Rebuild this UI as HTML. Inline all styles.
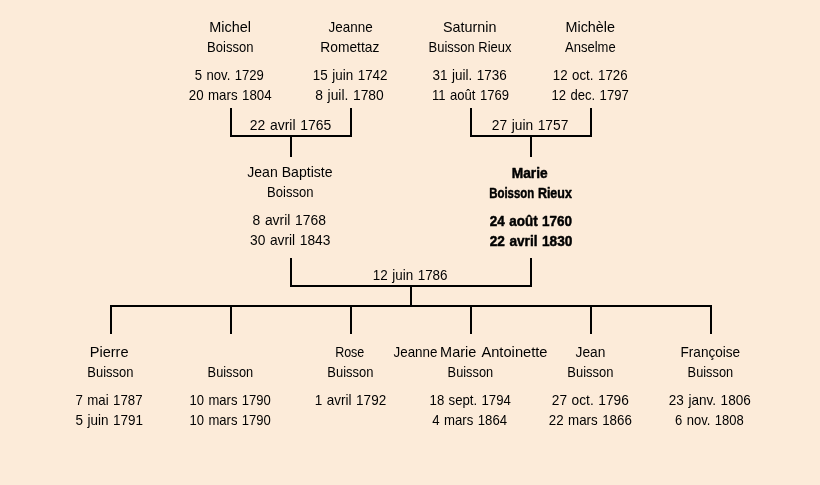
<!DOCTYPE html>
<html lang="fr">
<head>
<meta charset="utf-8">
<title>Arbre généalogique</title>
<style>
html,body{margin:0;padding:0;background:#FCEBD9;}
body{width:820px;height:485px;overflow:hidden;font-family:"Liberation Sans",sans-serif;}
svg{display:block;}
text{font-family:"Liberation Sans",sans-serif;font-size:14px;fill:#000;}
.b{font-weight:bold;font-size:15px;stroke:#000;stroke-width:0.5px;stroke-linejoin:round;}
rect.l{fill:#000;shape-rendering:crispEdges;}
g.tx{opacity:0.999;}
.d{word-spacing:0.8px;}
</style>
</head>
<body>
<svg width="820" height="485" viewBox="0 0 820 485">
<rect x="0" y="0" width="820" height="485" fill="#FCEBD9"/>
<rect class="l" x="230" y="108" width="2" height="29"/>
<rect class="l" x="350" y="108" width="2" height="29"/>
<rect class="l" x="230" y="135" width="122" height="2"/>
<rect class="l" x="290" y="137" width="2" height="20"/>
<rect class="l" x="470" y="108" width="2" height="29"/>
<rect class="l" x="590" y="108" width="2" height="29"/>
<rect class="l" x="470" y="135" width="122" height="2"/>
<rect class="l" x="530" y="137" width="2" height="20"/>
<rect class="l" x="290" y="258" width="2" height="29"/>
<rect class="l" x="530" y="258" width="2" height="29"/>
<rect class="l" x="290" y="285" width="242" height="2"/>
<rect class="l" x="410" y="287" width="2" height="18"/>
<rect class="l" x="110" y="305" width="602" height="2"/>
<rect class="l" x="110" y="305" width="2" height="29"/>
<rect class="l" x="230" y="305" width="2" height="29"/>
<rect class="l" x="350" y="305" width="2" height="29"/>
<rect class="l" x="470" y="305" width="2" height="29"/>
<rect class="l" x="590" y="305" width="2" height="29"/>
<rect class="l" x="710" y="305" width="2" height="29"/>
<g class="tx">
<text transform="translate(209.21,32) scale(1.0327,1)">Michel</text>
<text transform="translate(328.51,32) scale(0.9611,1)">Jeanne</text>
<text transform="translate(442.98,32) scale(1.0248,1)">Saturnin</text>
<text transform="translate(565.47,32) scale(1.0270,1)">Michèle</text>
<text transform="translate(207.09,52) scale(0.9319,1)">Boisson</text>
<text transform="translate(320.27,52) scale(0.9871,1)">Romettaz</text>
<text transform="translate(428.59,52) scale(0.9261,1)">Buisson Rieux</text>
<text transform="translate(565.00,52) scale(0.9302,1)">Anselme</text>
<text class="d" transform="translate(194.80,80) scale(0.9377,1)">5 nov. 1729</text>
<text class="d" transform="translate(312.79,80) scale(0.9607,1)">15 juin 1742</text>
<text class="d" transform="translate(432.52,80) scale(0.9638,1)">31 juil. 1736</text>
<text class="d" transform="translate(552.80,80) scale(0.9513,1)">12 oct. 1726</text>
<text class="d" transform="translate(188.79,100) scale(0.9506,1)">20 mars 1804</text>
<text class="d" transform="translate(315.26,100) scale(0.9890,1)">8 juil. 1780</text>
<text class="d" transform="translate(432.07,100) scale(0.9348,1)">11 août 1769</text>
<text class="d" transform="translate(551.57,100) scale(0.9350,1)">12 dec. 1797</text>
<text class="d" transform="translate(249.75,130) scale(0.9969,1)">22 avril 1765</text>
<text class="d" transform="translate(491.76,130) scale(0.9837,1)">27 juin 1757</text>
<text transform="translate(247.25,177) scale(1.0060,1)">Jean Baptiste</text>
<text class="b" transform="translate(511.81,177.6) scale(0.9150,1)">Marie</text>
<text transform="translate(267.09,197) scale(0.9319,1)">Boisson</text>
<text class="b" transform="translate(489.18,197.6) scale(0.7610,1)">Boisson</text>
<text class="b" transform="translate(537.88,197.6) scale(0.8323,1)">Rieux</text>
<text class="d" transform="translate(252.50,225) scale(0.9931,1)">8 avril 1768</text>
<text class="b d" transform="translate(489.78,225.6) scale(0.8984,1)">24 août 1760</text>
<text class="d" transform="translate(250.01,245) scale(0.9845,1)">30 avril 1843</text>
<text class="b d" transform="translate(489.77,245.6) scale(0.9086,1)">22 avril 1830</text>
<text class="d" transform="translate(372.79,280) scale(0.9607,1)">12 juin 1786</text>
<text transform="translate(89.70,357) scale(1.0423,1)">Pierre</text>
<text transform="translate(335.13,357) scale(0.8943,1)">Rose</text>
<text transform="translate(393.51,357) scale(0.9567,1)">Jeanne</text>
<text transform="translate(440.11,357) scale(1.0346,1)">Marie</text>
<text transform="translate(481.40,357) scale(1.0496,1)">Antoinette</text>
<text transform="translate(575.50,357) scale(0.9829,1)">Jean</text>
<text transform="translate(680.54,357) scale(0.9706,1)">Françoise</text>
<text transform="translate(87.34,377) scale(0.9267,1)">Buisson</text>
<text transform="translate(207.60,377) scale(0.9162,1)">Buisson</text>
<text transform="translate(327.34,377) scale(0.9267,1)">Buisson</text>
<text transform="translate(447.60,377) scale(0.9162,1)">Buisson</text>
<text transform="translate(567.34,377) scale(0.9267,1)">Buisson</text>
<text transform="translate(687.60,377) scale(0.9162,1)">Buisson</text>
<text class="d" transform="translate(75.54,405) scale(0.9460,1)">7 mai 1787</text>
<text class="d" transform="translate(189.57,405) scale(0.9329,1)">10 mars 1790</text>
<text class="d" transform="translate(314.78,405) scale(0.9654,1)">1 avril 1792</text>
<text class="d" transform="translate(429.56,405) scale(0.9412,1)">18 sept. 1794</text>
<text class="d" transform="translate(551.76,405) scale(0.9806,1)">27 oct. 1796</text>
<text class="d" transform="translate(668.77,405) scale(0.9700,1)">23 janv. 1806</text>
<text class="d" transform="translate(75.53,425) scale(0.9636,1)">5 juin 1791</text>
<text class="d" transform="translate(189.57,425) scale(0.9329,1)">10 mars 1790</text>
<text class="d" transform="translate(432.26,425) scale(0.9429,1)">4 mars 1864</text>
<text class="d" transform="translate(548.78,425) scale(0.9534,1)">22 mars 1866</text>
<text class="d" transform="translate(675.05,425) scale(0.9308,1)">6 nov. 1808</text>
</g>
</svg>
</body>
</html>
